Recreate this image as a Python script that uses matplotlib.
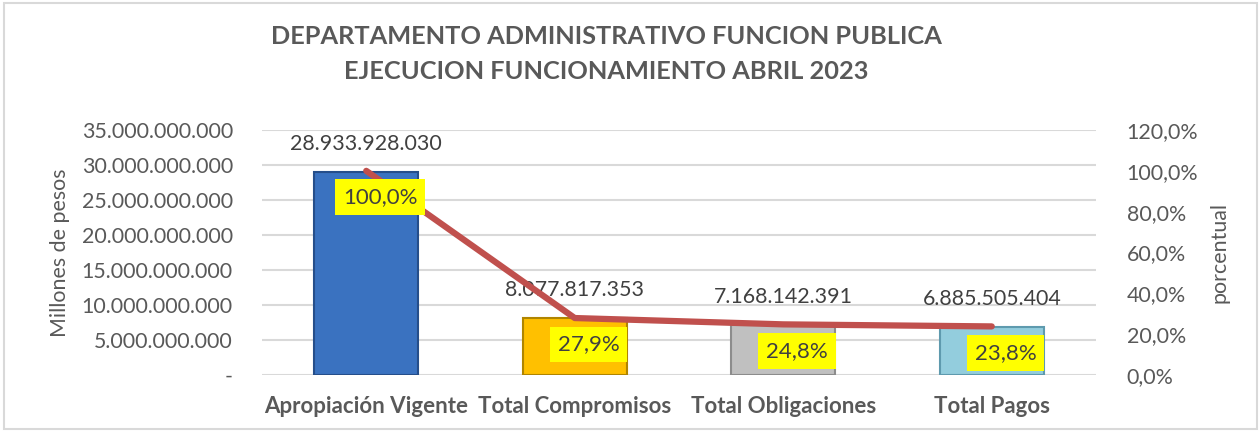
import matplotlib.pyplot as plt
import matplotlib.patches as patches
from matplotlib.ticker import FuncFormatter, MultipleLocator

# Data
categorias = ['Apropiación Vigente', 'Total Compromisos', 'Total Obligaciones', 'Total Pagos']
valores = [28933928030, 8077817353, 7168142391, 6885505404]
porcentajes = [100.0, 27.9, 24.8, 23.8]
colores = ['#3A72C0', '#FFC000', '#C0C0C0', '#93CDDD']
bordes = ['#254E8A', '#B08500', '#8C8C8C', '#5E9AAE']

GRIS = '#595959'

def miles(v, pos=None):
    if v == 0:
        return '-'
    return f'{v:,.0f}'.replace(',', '.')

def pct(v, pos=None):
    return f'{v:.1f}%'.replace('.', ',')

plt.rcParams['font.family'] = ['Lato', 'DejaVu Sans']

fig = plt.figure(figsize=(12.6, 4.32), dpi=100)
ax = fig.add_axes([262 / 1260, 1 - 375 / 432, (1096 - 262) / 1260, 245 / 432])
ax2 = ax.twinx()

x = range(len(categorias))
ax.bar(x, valores, width=0.5, color=colores, edgecolor=bordes, linewidth=1.5, zorder=2)
ax.set_xlim(-0.5, 3.5)
ax.set_ylim(0, 35e9)
ax.yaxis.set_major_locator(MultipleLocator(5e9))
ax.yaxis.set_major_formatter(FuncFormatter(miles))
ax.grid(axis='y', color='#D9D9D9', linewidth=1.5, zorder=0)
ax.set_axisbelow(True)
ax.set_xticks(list(x))
ax.set_xticklabels(categorias, fontsize=16, fontweight='bold', color=GRIS)
ax.tick_params(axis='y', length=0, labelsize=15.4, colors=GRIS, pad=21)
ax.tick_params(axis='x', length=0, pad=15)
for s in ax.spines.values():
    s.set_visible(False)
for s in ax2.spines.values():
    s.set_visible(False)
ax.set_ylabel('Millones de pesos', fontsize=15.4, color=GRIS, labelpad=8)

for i, v in enumerate(valores):
    ax.annotate(miles(v), (i, v), xytext=(0, 13), textcoords='offset points',
                ha='center', va='bottom', fontsize=15.4, color='#404040')

ax2.plot(list(x), porcentajes, color='#C0504D', linewidth=4.5,
         solid_capstyle='round', zorder=3)
ax2.set_ylim(0, 120)
ax2.yaxis.set_major_locator(MultipleLocator(20))
ax2.yaxis.set_major_formatter(FuncFormatter(pct))
ax2.tick_params(axis='y', length=0, labelsize=15.4, colors=GRIS, pad=22)
ax2.set_ylabel('porcentual', fontsize=15.4, color=GRIS, labelpad=8)

for i, p in enumerate(porcentajes):
    ax2.annotate(pct(p), (i, p), xytext=(10, -19), textcoords='offset points',
                 ha='center', va='center', fontsize=16, color='#404040',
                 bbox=dict(boxstyle='square,pad=0.35', facecolor='#FFFF00', edgecolor='none'),
                 zorder=5)

fig.text(0.481, 0.915, 'DEPARTAMENTO ADMINISTRATIVO FUNCION PUBLICA', ha='center', va='center',
         fontsize=18.3, fontweight='bold', color=GRIS)
fig.text(0.481, 0.835, 'EJECUCION FUNCIONAMIENTO ABRIL 2023', ha='center', va='center',
         fontsize=18.3, fontweight='bold', color=GRIS)

fig.patches.append(patches.Rectangle((4 / 1260, 3 / 432), 1253 / 1260, 426 / 432,
                                     transform=fig.transFigure, fill=False,
                                     edgecolor='#D9D9D9', linewidth=1.5))

fig.savefig('out.png', dpi=100)
